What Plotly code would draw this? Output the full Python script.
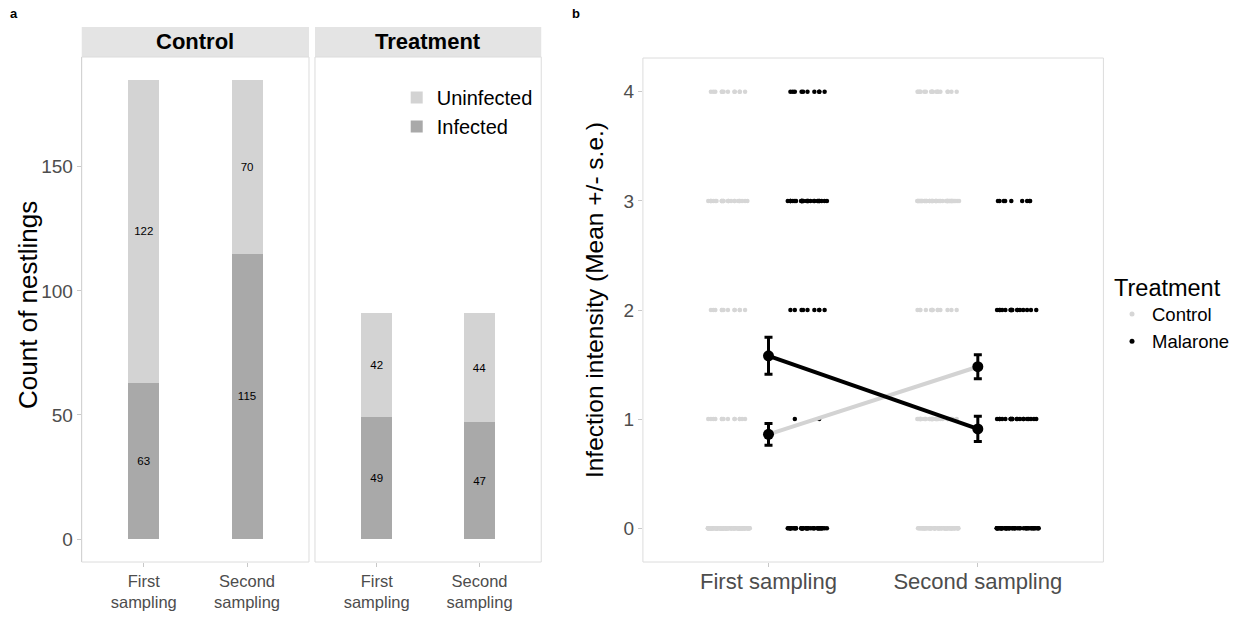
import plotly.graph_objects as go

# ---------------- data: panel a ----------------
samplings_a = ["First<br>sampling", "Second<br>sampling"]
control_uninfected = [122, 70]
control_infected = [63, 115]
treatment_uninfected = [42, 44]
treatment_infected = [49, 47]

# ---------------- data: panel b ----------------
samplings_b = ["First sampling", "Second sampling"]
levels = [0, 1, 2, 3, 4]
# number of nestlings at each infection intensity level (0..4)
control_first_counts = [122, 14, 12, 25, 12]
control_second_counts = [70, 35, 14, 48, 18]
malarone_first_counts = [42, 2, 9, 28, 10]
malarone_second_counts = [44, 21, 17, 9, 0]
control_mean = [0.86, 1.48]
control_se = [0.10, 0.11]
malarone_mean = [1.58, 0.91]
malarone_se = [0.17, 0.115]

UNINF = "#d3d3d3"
INF = "#a9a9a9"
CTRL_PT = "#d6d6d6"
FONT = "Liberation Sans, Arial, sans-serif"
W, H = 1235, 618


def px_x(v):
    return v / W


def px_y(v):
    return 1 - v / H


fig = go.Figure()

# ---- panel a bars ----
for xa, inf, uninf, show in [("x", control_infected, control_uninfected, True),
                             ("x2", treatment_infected, treatment_uninfected, False)]:
    fig.add_trace(go.Bar(x=samplings_a, y=inf, name="Infected", marker_color=INF,
                         marker_line_width=0, width=0.3, xaxis=xa, yaxis="y",
                         text=inf, textposition="inside", insidetextanchor="middle",
                         textfont=dict(size=11.5, color="black", family=FONT),
                         textangle=0, constraintext="none",
                         legend="legend", legendgroup="inf", showlegend=show))
    fig.add_trace(go.Bar(x=samplings_a, y=uninf, name="Uninfected", marker_color=UNINF,
                         marker_line_width=0, width=0.3, xaxis=xa, yaxis="y",
                         text=uninf, textposition="inside", insidetextanchor="middle",
                         textfont=dict(size=11.5, color="black", family=FONT),
                         textangle=0, constraintext="none",
                         legend="legend", legendgroup="uninf", showlegend=show))

# ---- panel b jittered points ----
for group, first_counts, second_counts, color in [
        ("Control", control_first_counts, control_second_counts, CTRL_PT),
        ("Malarone", malarone_first_counts, malarone_second_counts, "black")]:
    for lvl, n1, n2 in zip(levels, first_counts, second_counts):
        xs = [samplings_b[0]] * n1 + [samplings_b[1]] * n2
        ys = [lvl] * (n1 + n2)
        fig.add_trace(go.Box(x=xs, y=ys, xaxis="x3", yaxis="y2",
                             boxpoints="all", jitter=1, pointpos=0,
                             fillcolor="rgba(0,0,0,0)",
                             line=dict(width=0, color="rgba(0,0,0,0)"),
                             marker=dict(color=color, size=4.5, line=dict(width=0)),
                             offsetgroup=group, alignmentgroup="b",
                             showlegend=False, hoverinfo="skip"))

# ---- panel b means +/- s.e. ----
for means, ses, lcolor in [(control_mean, control_se, UNINF),
                           (malarone_mean, malarone_se, "black")]:
    fig.add_trace(go.Scatter(x=samplings_b, y=means, mode="lines+markers",
                             xaxis="x3", yaxis="y2",
                             line=dict(color=lcolor, width=4),
                             marker=dict(color="black", size=11),
                             error_y=dict(type="data", array=ses, color="black",
                                          thickness=3, width=4),
                             showlegend=False, hoverinfo="skip"))

# legend entries for panel b
fig.add_trace(go.Scatter(x=[None], y=[None], mode="markers", name="Control",
                         marker=dict(color=CTRL_PT, size=5), xaxis="x3", yaxis="y2",
                         legend="legend2"))
fig.add_trace(go.Scatter(x=[None], y=[None], mode="markers", name="Malarone",
                         marker=dict(color="black", size=5), xaxis="x3", yaxis="y2",
                         legend="legend2"))

tick_font = dict(family=FONT, size=19, color="#4d4d4d")

common_x = dict(showgrid=False, zeroline=False, ticks="outside", ticklen=4,
                tickcolor="#c8c8c8", showline=False, type="category")

fig.update_layout(
    width=W, height=H, autosize=False,
    margin=dict(l=0, r=0, t=0, b=0),
    paper_bgcolor="white", plot_bgcolor="white",
    font=dict(family=FONT),
    barmode="stack",
    boxmode="group", boxgap=0.24, boxgroupgap=0.47,
    xaxis=dict(domain=[px_x(82), px_x(310)], anchor="y", range=[-0.6, 1.6],
               categoryorder="array", categoryarray=samplings_a,
               tickfont=dict(family=FONT, size=16.5, color="#4d4d4d"), **common_x),
    xaxis2=dict(domain=[px_x(316), px_x(543)], anchor="y", range=[-0.6, 1.6],
                categoryorder="array", categoryarray=samplings_a,
                tickfont=dict(family=FONT, size=16.5, color="#4d4d4d"), **common_x),
    yaxis=dict(domain=[px_y(562), px_y(57)], anchor="x", range=[-9.25, 194.25],
               tickvals=[0, 50, 100, 150], showgrid=False, zeroline=False,
               ticks="outside", ticklen=4, tickcolor="#c8c8c8", tickfont=tick_font,
               showline=True, linecolor="#b8b8b8", linewidth=1),
    xaxis3=dict(domain=[px_x(645), px_x(1107)], anchor="y2", range=[-0.6, 1.6],
                categoryorder="array", categoryarray=samplings_b,
                tickfont=dict(family=FONT, size=22, color="#4d4d4d"),
                ticklabelstandoff=-4, **common_x),
    yaxis2=dict(domain=[px_y(562), px_y(58)], anchor="x3", range=[-0.31, 4.31],
                tickvals=[0, 1, 2, 3, 4], showgrid=False, zeroline=False,
                ticks="outside", ticklen=4, tickcolor="#c8c8c8", tickfont=tick_font,
                showline=False),
    legend=dict(x=px_x(398), y=px_y(78), xanchor="left", yanchor="top",
                traceorder="reversed", bgcolor="rgba(0,0,0,0)",
                font=dict(family=FONT, size=20, color="black"),
                itemwidth=30, tracegroupgap=0),
    legend2=dict(x=px_x(1116), y=px_y(265), xanchor="left", yanchor="top",
                 bgcolor="rgba(0,0,0,0)",
                 title=dict(text="Treatment", font=dict(family=FONT, size=23.5, color="black")),
                 font=dict(family=FONT, size=18.5, color="black"),
                 itemwidth=30),
)

shapes = []
# facet strips
for xr in ["x domain", "x2 domain"]:
    shapes.append(dict(type="rect", xref=xr, yref="paper", x0=0, x1=1,
                       y0=px_y(57), y1=px_y(27), fillcolor="#e4e4e4",
                       line=dict(width=0), layer="below"))
# panel borders
for xr, yr in [("x domain", "y domain"), ("x2 domain", "y domain"), ("x3 domain", "y2 domain")]:
    shapes.append(dict(type="rect", xref=xr, yref=yr, x0=0, x1=1, y0=0, y1=1,
                       line=dict(color="#dcdcdc", width=1), fillcolor="rgba(0,0,0,0)",
                       layer="above"))
fig.update_layout(shapes=shapes)

ann = dict(showarrow=False, xanchor="center", yanchor="middle")
annotations = [
    dict(text="<b>Control</b>", xref="x domain", yref="paper", x=0.5, y=px_y(42),
         font=dict(family=FONT, size=22, color="black"), **ann),
    dict(text="<b>Treatment</b>", xref="x2 domain", yref="paper", x=0.5, y=px_y(42),
         font=dict(family=FONT, size=22, color="black"), **ann),
    dict(text="<b>a</b>", xref="paper", yref="paper", x=px_x(14), y=px_y(13),
         font=dict(family=FONT, size=13, color="black"), **ann),
    dict(text="<b>b</b>", xref="paper", yref="paper", x=px_x(578), y=px_y(13),
         font=dict(family=FONT, size=13, color="black"), **ann),
    dict(text="Count of nestlings", xref="paper", yref="paper", x=px_x(28), y=px_y(305),
         textangle=-90, font=dict(family=FONT, size=26, color="black"), **ann),
    dict(text="Infection intensity (Mean +/- s.e.)", xref="paper", yref="paper",
         x=px_x(596), y=px_y(300), textangle=-90,
         font=dict(family=FONT, size=24.5, color="black"), **ann),
]
fig.update_layout(annotations=annotations)

# remove the default page margin so the 1235x618 figure fills the window exactly
fig.write_html("out.html",
               config={"displayModeBar": False},
               post_script="document.body.style.margin='0px';"
                           "document.body.style.overflow='hidden';")
